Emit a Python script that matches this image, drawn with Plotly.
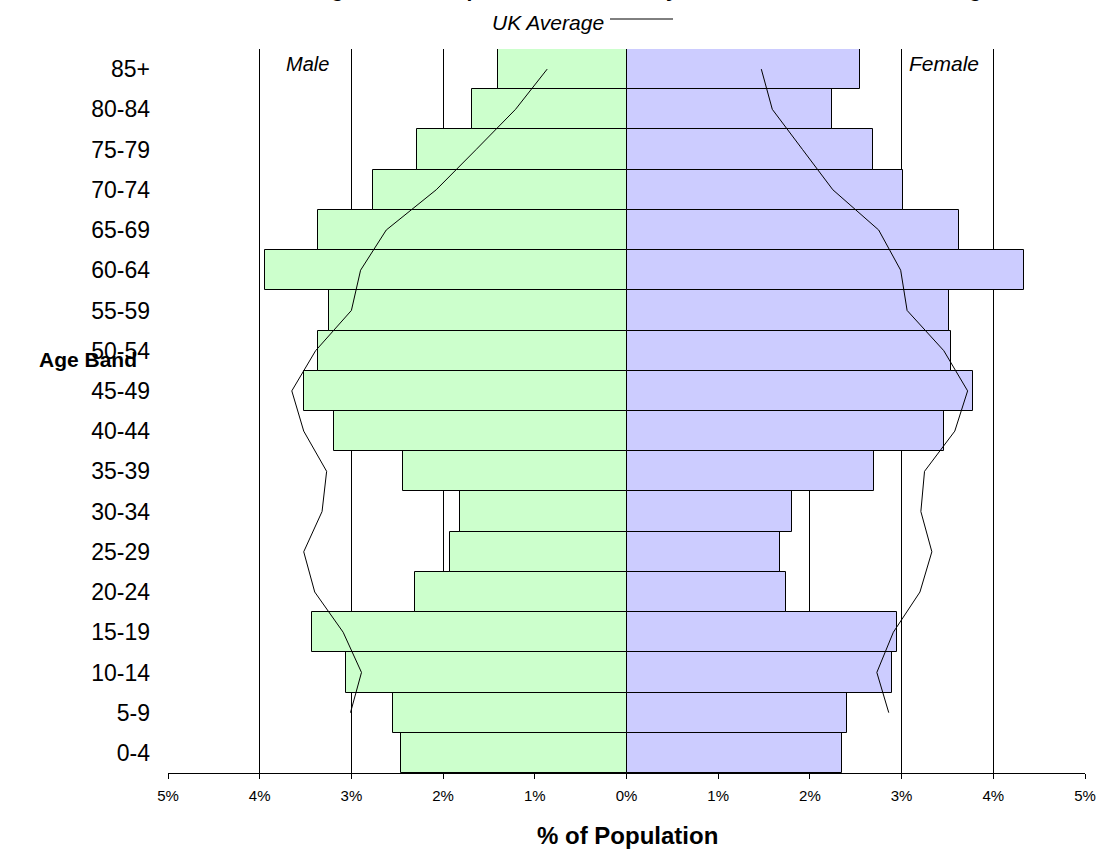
import plotly.graph_objects as go

# Age bands, youngest first (plotted bottom to top)
age_bands = ["0-4", "5-9", "10-14", "15-19", "20-24", "25-29", "30-34", "35-39",
             "40-44", "45-49", "50-54", "55-59", "60-64", "65-69", "70-74",
             "75-79", "80-84", "85+"]

# Local population share by band (% of total population)
male_pct = [2.46, 2.55, 3.06, 3.43, 2.31, 1.93, 1.82, 2.44, 3.19, 3.52,
            3.36, 3.24, 3.94, 3.36, 2.76, 2.29, 1.69, 1.40]
female_pct = [2.35, 2.40, 2.89, 2.95, 1.74, 1.67, 1.81, 2.70, 3.46, 3.78,
              3.54, 3.52, 4.33, 3.63, 3.02, 2.69, 2.24, 2.55]

# UK average share by band (no value drawn for 0-4)
uk_male_pct = [None, 3.01, 2.89, 3.09, 3.40, 3.52, 3.32, 3.27, 3.52, 3.65,
               3.39, 3.00, 2.90, 2.62, 2.075, 1.64, 1.21, 0.865]
uk_female_pct = [None, 2.86, 2.73, 2.91, 3.20, 3.33, 3.21, 3.25, 3.58, 3.72,
                 3.46, 3.06, 2.99, 2.75, 2.25, 1.92, 1.59, 1.47]

tick_vals = [-5, -4, -3, -2, -1, 0, 1, 2, 3, 4, 5]
tick_text = ["5%", "4%", "3%", "2%", "1%", "0%", "1%", "2%", "3%", "4%", "5%"]

FONT = "Arial, Liberation Sans, sans-serif"
W, H = 1098, 851
L, R, T, B = 168, 13, 49, 78


def px_x(px):
    return (px - L) / (W - L - R)


def px_y(py):
    return 1 + (T - py) / (H - T - B)


fig = go.Figure()

fig.add_trace(go.Bar(
    y=age_bands, x=[-v for v in male_pct], orientation="h", name="Male",
    marker=dict(color="#CCFFCC", line=dict(color="#000000", width=1)),
    width=1, showlegend=False, hoverinfo="skip"))
fig.add_trace(go.Bar(
    y=age_bands, x=female_pct, orientation="h", name="Female",
    marker=dict(color="#CCCCFF", line=dict(color="#000000", width=1)),
    width=1, showlegend=False, hoverinfo="skip"))

fig.add_trace(go.Scatter(
    y=age_bands, x=[None if v is None else -v for v in uk_male_pct],
    mode="lines", line=dict(color="#000000", width=1), connectgaps=False,
    showlegend=False, hoverinfo="skip"))
fig.add_trace(go.Scatter(
    y=age_bands, x=uk_female_pct,
    mode="lines", line=dict(color="#000000", width=1), connectgaps=False,
    showlegend=False, hoverinfo="skip"))

fig.update_layout(
    width=W, height=H,
    margin=dict(l=L, r=R, t=T, b=B, pad=0),
    paper_bgcolor="white", plot_bgcolor="white",
    barmode="overlay", bargap=0,
    font=dict(family=FONT, color="#000000"),
    xaxis=dict(
        range=[-5, 5], tickvals=tick_vals, ticktext=tick_text,
        showgrid=True, gridcolor="#000000", gridwidth=1,
        zeroline=True, zerolinecolor="#000000", zerolinewidth=1.5,
        showline=True, linecolor="#000000", linewidth=1,
        ticks="outside", ticklen=5, tickcolor="#000000",
        tickfont=dict(size=15, family=FONT), ticklabelstandoff=4,
        automargin=False, fixedrange=True),
    yaxis=dict(
        type="category", categoryorder="array", categoryarray=age_bands,
        range=[-0.5, 17.5], showgrid=False, zeroline=False, showline=False,
        ticks="", tickfont=dict(size=23, family=FONT), ticklabelstandoff=17,
        automargin=False, fixedrange=True),
)

annotations = [
    dict(text="<b>Age Profile: Population Structure by Sex Relative to the UK Average</b>",
         x=px_x(655), y=px_y(3), xanchor="center", yanchor="bottom",
         font=dict(size=21, family=FONT)),
    dict(text="<i>UK Average</i>", x=px_x(606), y=px_y(23), xanchor="right",
         yanchor="middle", font=dict(size=21, family=FONT)),
    dict(text="<i>Male</i>", x=px_x(307), y=px_y(64), xanchor="center",
         yanchor="middle", font=dict(size=20, family=FONT)),
    dict(text="<i>Female</i>", x=px_x(944), y=px_y(64), xanchor="center",
         yanchor="middle", font=dict(size=21, family=FONT)),
    dict(text="<b>Age Band</b>", x=px_x(37), y=px_y(360), xanchor="left",
         yanchor="middle", font=dict(size=21, family=FONT)),
    dict(text="<b>% of Population</b>", x=px_x(627), y=px_y(836),
         xanchor="center", yanchor="middle", font=dict(size=24, family=FONT)),
]
for a in annotations:
    a.update(xref="paper", yref="paper", showarrow=False)
fig.update_layout(annotations=annotations)

# legend key for the UK average line
fig.add_shape(type="line", xref="paper", yref="paper",
              x0=px_x(610), x1=px_x(673), y0=px_y(19), y1=px_y(19),
              line=dict(color="#000000", width=1))

fig.write_html("out.html")
